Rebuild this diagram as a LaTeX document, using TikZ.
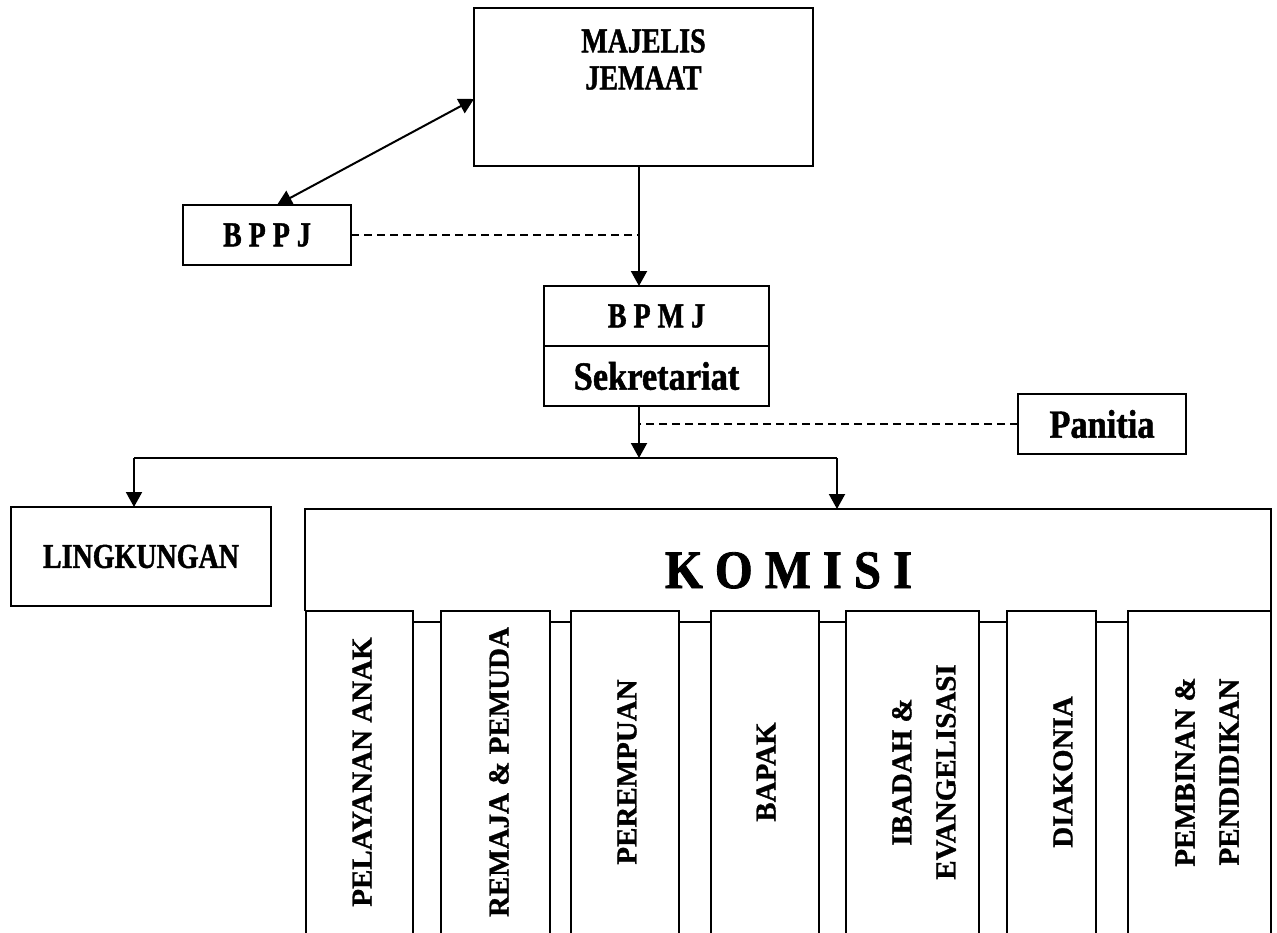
\documentclass[tikz,border=0pt]{standalone}
\usepackage{fontspec}
\setmainfont{Liberation Serif}
\newfontfamily\capsf[FakeStretch=0.8,FakeBold=1.2]{Liberation Serif}
\newfontfamily\lowf[FakeStretch=0.86,FakeBold=1.2]{Liberation Serif}
\newfontfamily\komf[FakeStretch=0.9,FakeBold=1.5]{Liberation Serif}
\newfontfamily\colf[FakeBold=1]{Liberation Serif}
\usetikzlibrary{arrows.meta,calc}
\tikzset{
  box/.style={draw, line width=2pt, inner sep=0pt, outer sep=0pt},
  capstxt/.style={font=\capsf\bfseries\fontsize{35}{37}\selectfont},
  lowtxt/.style={font=\lowf\bfseries\fontsize{40}{44}\selectfont},
  coltxt/.style={font=\colf\bfseries\fontsize{29}{44}\selectfont, rotate=90, align=center, inner sep=0pt},
  conn/.style={line width=2pt},
  arr/.style={line width=2pt, -{Triangle[length=15pt,width=16pt]}},
  dblarr/.style={line width=2pt, {Triangle[length=15pt,width=16pt]}-{Triangle[length=15pt,width=16pt]}},
  dashln/.style={line width=1.5pt, dash pattern=on 8pt off 5pt}
}
\begin{document}
\begin{tikzpicture}[x=1pt,y=-1pt]
\useasboundingbox (0,0) rectangle (1277,932);
\clip (0,0) rectangle (1277,932);
% top boxes
\node[box, minimum width=339pt, minimum height=158pt] (mj) at (643.5,87) {};
\node[capstxt, align=center, inner sep=0pt, anchor=north] (mjtxt) at (643.5,29) {MAJELIS\\JEMAAT};
\node[box, capstxt, minimum width=168pt, minimum height=60pt] (bppj) at (267,235) {B P P J};
\node[box, capstxt, minimum width=225pt, minimum height=60pt] (bpmj) at (656.5,316) {B P M J};
\node[box, lowtxt, minimum width=225pt, minimum height=60pt] (sek) at (656.5,376) {Sekretariat};
\node[box, lowtxt, minimum width=168pt, minimum height=60pt] (pan) at (1102,424) {Panitia};
\node[box, capstxt, minimum width=260pt, minimum height=99pt] (ling) at (141,556.5) {LINGKUNGAN};
% komisi header
\node[inner sep=0pt, outer sep=0pt, minimum width=966pt, minimum height=102pt] (kom) at (788,560) {};
\draw[conn] (kom.south west) -- (kom.north west) -- (kom.north east) -- (kom.south east);
\node[font=\komf\bfseries\fontsize{54}{60}\selectfont, inner sep=0pt, anchor=base] (komtxt) at (788.5,588) {K O M I S I};
% columns
\node[box, anchor=north west, minimum width=107pt, minimum height=340pt] (c1) at (306,611) {};
\node[box, anchor=north west, minimum width=109pt, minimum height=340pt] (c2) at (441,611) {};
\node[box, anchor=north west, minimum width=108pt, minimum height=340pt] (c3) at (571,611) {};
\node[box, anchor=north west, minimum width=108pt, minimum height=340pt] (c4) at (711,611) {};
\node[box, anchor=north west, minimum width=133pt, minimum height=340pt] (c5) at (846,611) {};
\node[box, anchor=north west, minimum width=89pt, minimum height=340pt] (c6) at (1007,611) {};
\node[box, anchor=north west, minimum width=143pt, minimum height=340pt] (c7) at (1128,611) {};
\foreach \a/\b in {c1/c2,c2/c3,c3/c4,c4/c5,c5/c6,c6/c7}
  \draw[conn] ([yshift=-11pt]\a.north east) -- ([yshift=-11pt]\b.north west);
\node[coltxt] (t1) at (362,772) {PELAYANAN ANAK};
\node[coltxt] (t2) at (499,772) {REMAJA \& PEMUDA};
\node[coltxt] (t3) at (627,772) {PEREMPUAN};
\node[coltxt] (t4) at (766,772) {BAPAK};
\node[coltxt] (t5) at (924,772) {IBADAH \&\\EVANGELISASI};
\node[coltxt] (t6) at (1063,772) {DIAKONIA};
\node[coltxt] (t7) at (1207,772) {PEMBINAN \&\\PENDIDIKAN};
% connectors
\coordinate (vx) at (639,0);
\coordinate (hy) at (0,458);
\coordinate (mjb) at (mj.south -| vx);
\coordinate (sekb) at (sek.south -| vx);
\coordinate (split) at (vx |- hy);
\coordinate (lx) at (134,458);
\coordinate (kx) at (837,458);
\draw[dblarr] ([xshift=10pt]bppj.north) -- ([yshift=-12pt]mj.west);
\draw[arr] (mjb) -- (mjb |- bpmj.north);
\draw[dashln] (bppj.east) -- (bppj.east -| vx);
\draw[arr] (sekb) -- (split);
\draw[dashln] (pan.west) -- (pan.west -| vx);
\draw[conn] (lx) -- (kx);
\draw[arr] (lx) -- (lx |- ling.north);
\draw[arr] (kx) -- (kx |- kom.north);
\end{tikzpicture}
\end{document}
